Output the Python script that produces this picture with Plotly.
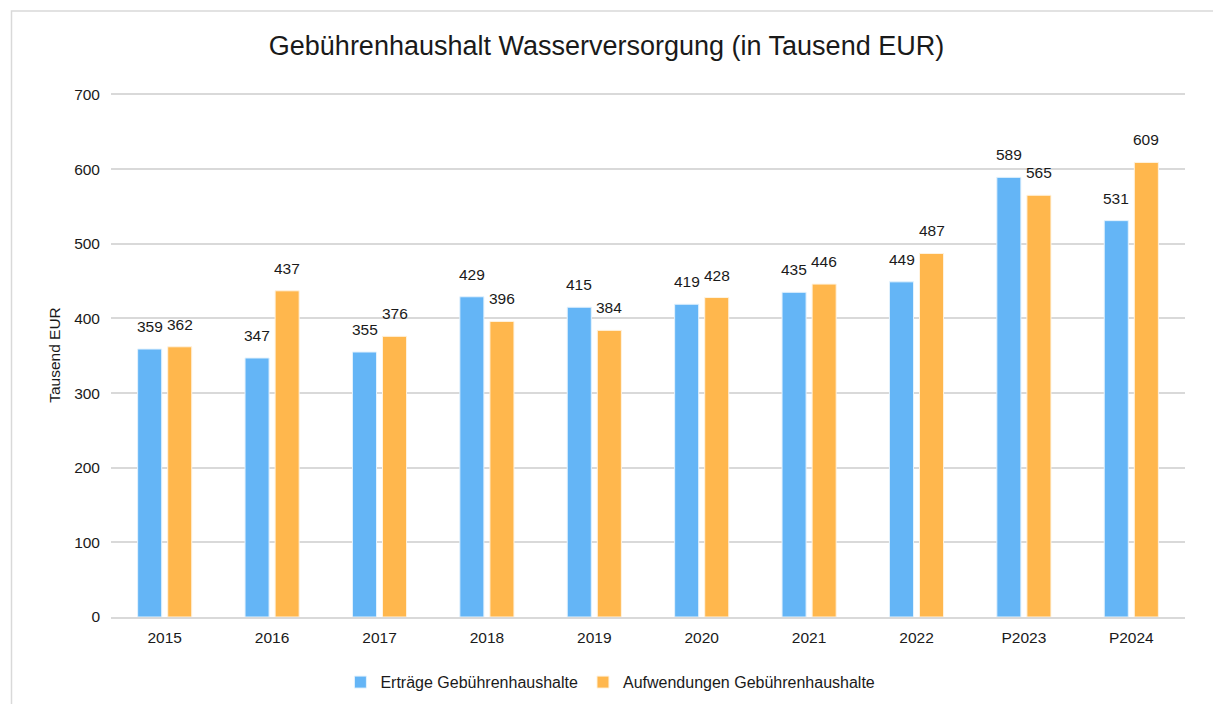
import plotly.graph_objects as go

categories = ["2015", "2016", "2017", "2018", "2019", "2020", "2021", "2022", "P2023", "P2024"]
ertraege = [359, 347, 355, 429, 415, 419, 435, 449, 589, 531]
aufwendungen = [362, 437, 376, 396, 384, 428, 446, 487, 565, 609]
y_ticks = [0, 100, 200, 300, 400, 500, 600, 700]

FONT = "Liberation Sans, Arial, sans-serif"
BLUE = "#64B5F6"
ORANGE = "#FFB74D"
TXT = "#1a1a1a"
FS = 15.5

fig = go.Figure()
fig.add_trace(go.Bar(x=categories, y=ertraege, name="Erträge Gebührenhaushalte",
                     marker=dict(color=BLUE, line=dict(color="#E3F2FD", width=1))))
fig.add_trace(go.Bar(x=categories, y=aufwendungen, name="Aufwendungen Gebührenhaushalte",
                     marker=dict(color=ORANGE, line=dict(color="#FFF3E0", width=1))))

annotations = []
for i, v in enumerate(ertraege):
    annotations.append(dict(x=i, y=v, text=str(v), showarrow=False, xshift=-15, yshift=12,
                            yanchor="bottom", font=dict(family=FONT, size=FS, color=TXT)))
for i, v in enumerate(aufwendungen):
    annotations.append(dict(x=i, y=v, text=str(v), showarrow=False, xshift=15, yshift=12,
                            yanchor="bottom", font=dict(family=FONT, size=FS, color=TXT)))

TOP = 92.5
fig.update_layout(
    width=1213, height=704,
    paper_bgcolor="white", plot_bgcolor="white",
    font=dict(family=FONT, size=FS, color=TXT),
    title=dict(text="Gebührenhaushalt Wasserversorgung (in Tausend EUR)",
               x=0.5, xanchor="center", y=0.935, yanchor="middle",
               font=dict(family=FONT, size=27, color=TXT)),
    margin=dict(l=111, r=28, t=TOP, b=87, autoexpand=False),
    barmode="group", bargap=0.44, bargroupgap=0.2,
    showlegend=True,
    legend=dict(orientation="h", x=0.465, xanchor="center", y=-0.092, yanchor="top",
                font=dict(family=FONT, size=16, color=TXT), itemwidth=30),
    annotations=annotations,
    shapes=[dict(type="rect", xref="paper", yref="paper",
                 x0=(11.5 - 111) / 1074, x1=1.2, y0=-0.5, y1=(617 - 10.5) / (617 - TOP),
                 line=dict(color="#d9d9d9", width=1.5), fillcolor="rgba(0,0,0,0)", layer="below")],
)
fig.update_xaxes(type="category", range=[-0.5, len(categories) - 0.5], automargin=False,
                 showgrid=False, showline=True, linecolor="#d9d9d9", linewidth=2,
                 ticks="", ticklabelstandoff=5, tickfont=dict(family=FONT, size=FS, color=TXT))
fig.update_yaxes(range=[0, 702], tickvals=y_ticks, automargin=False, showgrid=True,
                 gridcolor="#d9d9d9", gridwidth=1.5,
                 zeroline=False, showline=False, ticks="", ticklabelstandoff=10,
                 tickfont=dict(family=FONT, size=FS, color=TXT),
                 title=dict(text="Tausend EUR", font=dict(family=FONT, size=FS, color=TXT), standoff=9))

fig.write_html("out.html", config={"displayModeBar": False},
               post_script="document.body.style.margin='0';")
